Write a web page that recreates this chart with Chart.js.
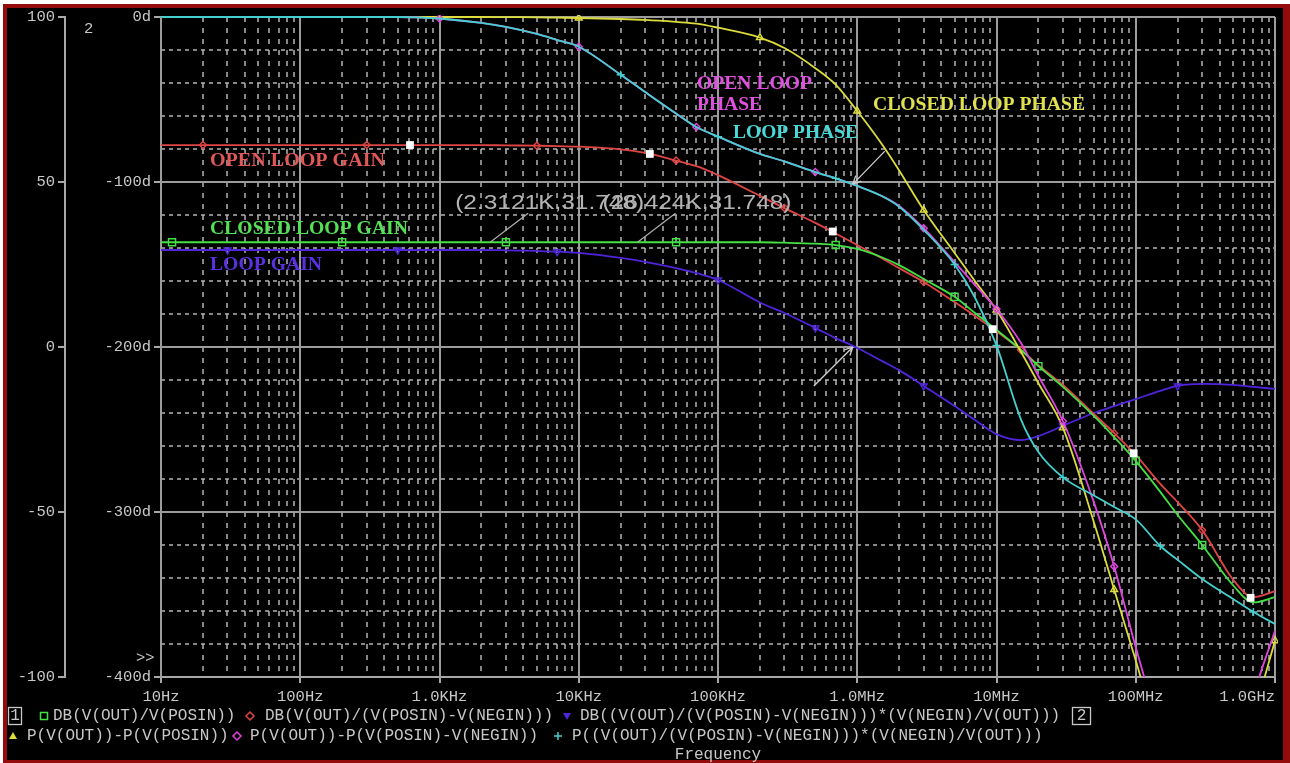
<!DOCTYPE html>
<html>
<head>
<meta charset="utf-8">
<title>Loop gain and phase</title>
<script src="https://cdn.jsdelivr.net/npm/chart.js@4/dist/chart.umd.min.js"></script>
<style>
  html, body { margin: 0; padding: 0; background: #ffffff; }
  canvas { display: block; }
</style>
</head>
<body>
<canvas id="plot" width="1290" height="763"></canvas>
<script>
// Sweep frequencies (Hz)
const freqHz = [10, 12, 20, 30, 50, 70,
  100, 200, 300, 500, 700,
  1e3, 2e3, 3e3, 5e3, 7e3,
  1e4, 2e4, 3e4, 5e4, 7e4,
  1e5, 2e5, 3e5, 5e5, 7e5,
  1e6, 1.5e6, 2e6, 3e6, 5e6, 7e6,
  1e7, 1.5e7, 2e7, 3e7, 5e7, 7e7,
  1e8, 1.5e8, 2e8, 3e8, 5e8, 7e8,
  1e9];

// DB(V(OUT)/V(POSIN))  -- closed loop gain, dB
const closedLoopGainDb = [31.748, 31.748, 31.748, 31.748, 31.748, 31.748,
  31.748, 31.748, 31.748, 31.748, 31.748,
  31.748, 31.748, 31.748, 31.748, 31.748,
  31.748, 31.748, 31.748, 31.748, 31.748,
  31.748, 31.748, 31.6, 31.3, 30.9,
  29.7, 27.2, 24.8, 20.6, 15.2, 10.3,
  5.2, -0.9, -5.8, -12.1, -20.9, -27.3,
  -34.5, -43.9, -50.9, -60.0, -72.2, -77.4,
  -75.8];

// DB(V(OUT)/(V(POSIN)-V(NEGIN)))  -- open loop gain, dB
const openLoopGainDb = [61.2, 61.2, 61.2, 61.2, 61.2, 61.2,
  61.2, 61.2, 61.2, 61.2, 61.2,
  61.2, 61.2, 61.1, 61.0, 60.9,
  60.7, 59.9, 58.8, 56.5, 54.8,
  52.1, 45.8, 42.1, 37.6, 34.4,
  30.9, 26.9, 23.9, 19.7, 13.6, 9.4,
  4.8, -0.9, -5.5, -11.5, -20.3, -26.1,
  -32.7, -41.5, -47.0, -55.5, -70.5, -75.8,
  -74.0];

// DB((V(OUT)/(V(POSIN)-V(NEGIN)))*(V(NEGIN)/V(OUT)))  -- loop gain, dB
const loopGainDb = [29.4, 29.4, 29.4, 29.4, 29.4, 29.4,
  29.4, 29.4, 29.4, 29.4, 29.4,
  29.4, 29.4, 29.3, 29.1, 28.9,
  28.5, 27.0, 25.8, 23.9, 22.4,
  20.3, 13.5, 10.3, 5.8, 2.7,
  -0.3, -4.2, -7.0, -11.8, -17.9, -22.1,
  -26.4, -28.2, -27.0, -23.9, -20.0, -17.9,
  -15.8, -13.3, -11.8, -11.2, -11.5, -12.1,
  -12.7];

// P(V(OUT))-P(V(POSIN))  -- closed loop phase, degrees
const closedLoopPhaseDeg = [0, 0, 0, 0, 0, 0,
  0, 0, 0, 0, 0,
  0, 0, -0.1, -0.2, -0.4,
  -0.6, -1.2, -1.8, -3.0, -4.0,
  -6.5, -12.5, -18.8, -31, -41,
  -57, -77, -93, -117, -143, -160,
  -177.6, -203, -222, -249, -306, -347,
  -390, -440, -468, -488, -478, -425,
  -378];

// P(V(OUT))-P(V(POSIN)-V(NEGIN))  -- open loop phase, degrees
const openLoopPhaseDeg = [0, 0, 0, 0, 0, 0,
  0, 0, 0, 0, -0.3,
  -0.9, -3.6, -6, -10.3, -14,
  -18, -35, -45.5, -58.5, -66.7,
  -72.5, -83, -87.5, -94, -97.8,
  -102.4, -108.5, -114.5, -128, -148.5, -162.4,
  -177, -197.6, -217.6, -245, -294, -333,
  -382, -432, -460, -482, -468, -412,
  -372];

// P((V(OUT)/(V(POSIN)-V(NEGIN)))*(V(NEGIN)/V(OUT)))  -- loop phase, degrees
const loopPhaseDeg = [0, 0, 0, 0, 0, 0,
  0, 0, 0, 0, -0.3,
  -0.9, -3.6, -6, -10.3, -14,
  -18, -35, -45.5, -58.5, -66.7,
  -72.5, -83, -87.5, -94, -97.8,
  -102.4, -108.5, -115, -129, -150, -170,
  -199, -244, -263.6, -279, -290, -297,
  -304.5, -320.6, -329, -340.6, -352.7, -360.6,
  -367.9];

// Sample indices that carry a trace symbol
const closedGainMarks = [1, 7, 13, 19, 25, 30, 34, 38, 41];
const openGainMarks = [2, 8, 14, 19, 23, 29, 33, 37, 41];
const loopGainMarks = [3, 9, 15, 21, 24, 29, 35, 40];
const closedPhaseMarks = [16, 22, 26, 29, 32, 35, 37, 44];
const openPhaseMarks = [11, 16, 20, 24, 29, 32, 35, 37];
const loopPhaseMarks = [17, 21, 25, 30, 32, 35, 39, 43];

// Data-point marks placed on the open loop gain trace
const markHz = [614, 32400, 667000, 9.4e6, 9.66e7, 6.68e8];
const markDb = [61.2, 58.5, 35.0, 5.4, -32.2, -76.0];

// Cursor readouts on the closed loop gain trace
const cursorHz = [2312.1, 26424];
const cursorDb = [31.748, 31.748];

// Unity loop gain crossover and the loop phase there
const crossoverHz = 0.93e6;
const crossoverGainDb = 0;
const crossoverPhaseDeg = -101.3;

// Axis ticks
const decadeHz = [10, 100, 1e3, 1e4, 1e5, 1e6, 1e7, 1e8, 1e9];
const freqTickLabels = ['10Hz', '100Hz', '1.0KHz', '10KHz', '100KHz', '1.0MHz', '10MHz', '100MHz', '1.0GHz'];

// Trace legend rows
const legendRow1 = ['DB(V(OUT)/V(POSIN))', 'DB(V(OUT)/(V(POSIN)-V(NEGIN)))', 'DB((V(OUT)/(V(POSIN)-V(NEGIN)))*(V(NEGIN)/V(OUT)))'];
const legendRow2 = ['P(V(OUT))-P(V(POSIN))', 'P(V(OUT))-P(V(POSIN)-V(NEGIN))', 'P((V(OUT)/(V(POSIN)-V(NEGIN)))*(V(NEGIN)/V(OUT)))'];

const RED = '#e04444', GREEN = '#44e044', BLUE = '#5024dc';
const YELLOW = '#dcdc3c', MAGENTA = '#e044e0', CYAN = '#44d0d0';
const TEXT = '#c8c8c8';
const AXIS = '#a8a8a8';
const GRID_MAJOR = '#9c9c9c';
const GRID_MINOR = '#b4b4b4';
const MONO = '"Liberation Mono", "DejaVu Sans Mono", monospace';
const SERIF = '"Liberation Serif", "DejaVu Serif", serif';
const SANS = '"Liberation Sans", Arial, sans-serif';

function series(vals) {
  return freqHz.map((f, i) => ({ x: f, y: vals[i] }));
}
function markRadius(idx, r) {
  return ctx => (idx.includes(ctx.dataIndex) ? r : 0);
}
function trace(label, vals, axis, color, style, idx, r, extra) {
  return Object.assign({
    label: label,
    data: series(vals),
    yAxisID: axis,
    borderColor: color,
    borderWidth: 1.8,
    backgroundColor: 'transparent',
    pointStyle: style,
    pointRadius: markRadius(idx, r),
    pointHoverRadius: 0,
    pointBorderColor: color,
    pointBackgroundColor: 'transparent',
    pointBorderWidth: 1.4,
    cubicInterpolationMode: 'monotone',
    fill: false,
    clip: { left: 0, top: 2, right: 3, bottom: 0 }
  }, extra || {});
}

function fitText(ctx, text, x, y, w, font, color) {
  ctx.font = font;
  const m = ctx.measureText(text).width;
  ctx.save();
  ctx.translate(x, y);
  ctx.scale(w / m, 1);
  ctx.fillStyle = color;
  ctx.textAlign = 'left';
  ctx.textBaseline = 'middle';
  ctx.fillText(text, 0, 0);
  ctx.restore();
}

function seg(ctx, x0, y0, x1, y1) {
  ctx.beginPath();
  ctx.moveTo(x0, y0);
  ctx.lineTo(x1, y1);
  ctx.stroke();
}

function arrow(ctx, x0, y0, x1, y1) {
  seg(ctx, x0, y0, x1, y1);
  const a = Math.atan2(y1 - y0, x1 - x0);
  const L = 9, s = 0.45;
  seg(ctx, x1, y1, x1 - L * Math.cos(a - s), y1 - L * Math.sin(a - s));
  seg(ctx, x1, y1, x1 - L * Math.cos(a + s), y1 - L * Math.sin(a + s));
}

function legendSymbol(ctx, kind, x, y, color) {
  ctx.save();
  ctx.strokeStyle = color;
  ctx.fillStyle = color;
  ctx.lineWidth = 1.5;
  ctx.setLineDash([]);
  ctx.beginPath();
  if (kind === 'square') {
    ctx.rect(x - 3.5, y - 3.5, 7, 7);
    ctx.stroke();
  } else if (kind === 'diamond') {
    ctx.moveTo(x, y - 4); ctx.lineTo(x + 4, y); ctx.lineTo(x, y + 4); ctx.lineTo(x - 4, y); ctx.closePath();
    ctx.stroke();
  } else if (kind === 'triDown') {
    ctx.moveTo(x - 4, y - 3); ctx.lineTo(x + 4, y - 3); ctx.lineTo(x, y + 4); ctx.closePath();
    ctx.fill();
  } else if (kind === 'triUp') {
    ctx.moveTo(x - 4, y + 3); ctx.lineTo(x + 4, y + 3); ctx.lineTo(x, y - 4); ctx.closePath();
    ctx.fill();
  } else if (kind === 'plus') {
    ctx.moveTo(x - 4, y); ctx.lineTo(x + 4, y);
    ctx.moveTo(x, y - 4); ctx.lineTo(x, y + 4);
    ctx.stroke();
  }
  ctx.restore();
}

const pspiceFrame = {
  id: 'pspiceFrame',
  beforeDraw(chart) {
    const { ctx, width, height } = chart;
    ctx.save();
    ctx.fillStyle = '#ffffff';
    ctx.fillRect(0, 0, width, height);
    ctx.fillStyle = '#940c0c';
    ctx.fillRect(3, 4, width - 3, height - 4);
    ctx.fillStyle = '#000000';
    ctx.fillRect(7, 8, width - 14, height - 11);
    ctx.restore();
  },
  beforeDatasetsDraw(chart) {
    const { ctx, chartArea: a, scales } = chart;
    const xs = scales.x, yp = scales.yPh;
    ctx.save();
    // dotted minor grid
    ctx.strokeStyle = GRID_MINOR;
    ctx.lineWidth = 1.5;
    ctx.setLineDash([5, 6]);
    for (let d = 10; d < 1e9; d *= 10) {
      for (let m = 2; m <= 9; m++) {
        const px = Math.round(xs.getPixelForValue(m * d));
        seg(ctx, px, a.top, px, a.bottom);
      }
    }
    ctx.setLineDash([4, 4]);
    for (let v = -20; v > -400; v -= 20) {
      if (v % 100 === 0) continue;
      const py = Math.round(yp.getPixelForValue(v));
      seg(ctx, a.left, py, a.right, py);
    }
    // solid major grid
    ctx.setLineDash([]);
    ctx.strokeStyle = GRID_MAJOR;
    ctx.lineWidth = 2;
    decadeHz.forEach(f => {
      const px = Math.round(xs.getPixelForValue(f));
      seg(ctx, px, a.top, px, a.bottom);
    });
    for (let v = 0; v > -400; v -= 100) {
      const py = Math.round(yp.getPixelForValue(v));
      seg(ctx, a.left, py, a.right, py);
    }
    ctx.restore();
  },
  afterDraw(chart) {
    const { ctx, chartArea: a, scales } = chart;
    const xs = scales.x, yd = scales.yDb, yp = scales.yPh;
    ctx.save();

    // trace names
    const bold = 'bold 19px ' + SERIF;
    fitText(ctx, 'OPEN LOOP GAIN', 210, 161, 175, bold, '#e05858');
    fitText(ctx, 'CLOSED LOOP GAIN', 210, 229, 198, bold, '#54e054');
    fitText(ctx, 'LOOP GAIN', 210, 265, 112, bold, '#5a30e0');
    fitText(ctx, 'OPEN LOOP', 697, 84, 115, bold, '#e050e0');
    fitText(ctx, 'PHASE', 697, 105, 65, bold, '#e050e0');
    fitText(ctx, 'LOOP PHASE', 733, 133, 125, bold, '#48d8d8');
    fitText(ctx, 'CLOSED LOOP PHASE', 873, 105, 212, bold, '#e0e050');

    // cursor readouts
    ctx.strokeStyle = '#b0b0b0';
    ctx.lineWidth = 1.2;
    cursorHz.forEach((f, i) => {
      const px = xs.getPixelForValue(f);
      const py = yd.getPixelForValue(cursorDb[i]);
      seg(ctx, px, py, px + 38, py - 29);
      const txt = '(' + (f / 1000).toPrecision(5) + 'K,' + cursorDb[i].toFixed(3) + ')';
      fitText(ctx, txt, px - 35, py - 39, 189, '20px ' + SANS, '#b4b4b4');
    });

    // crossover arrows
    ctx.strokeStyle = '#d0d0d0';
    ctx.lineWidth = 1.3;
    const cx = xs.getPixelForValue(crossoverHz);
    const cp = yp.getPixelForValue(crossoverPhaseDeg);
    arrow(ctx, cx + 32, cp - 33, cx, cp);
    const cg = yd.getPixelForValue(crossoverGainDb);
    arrow(ctx, cx - 39, cg + 39, cx, cg);

    // frequency tick labels
    ctx.font = '15.5px ' + MONO;
    ctx.fillStyle = TEXT;
    ctx.textBaseline = 'middle';
    decadeHz.forEach((f, i) => {
      const px = xs.getPixelForValue(f);
      ctx.textAlign = i === decadeHz.length - 1 ? 'right' : 'center';
      ctx.fillText(freqTickLabels[i], px, 697);
    });

    // axis identifiers
    ctx.textAlign = 'left';
    ctx.fillText('2', 84, 29);
    ctx.fillText('>>', 136, 658);

    // legend
    ctx.font = '16px ' + MONO;
    ctx.strokeStyle = TEXT;
    ctx.lineWidth = 1.3;
    ctx.strokeRect(8.5, 707.5, 13, 17);
    ctx.strokeRect(1072.5, 707.5, 18, 17);
    ctx.textAlign = 'center';
    ctx.fillText('1', 15, 716);
    ctx.fillText('2', 1081.5, 716);
    ctx.textAlign = 'left';
    legendSymbol(ctx, 'square', 44, 716, GREEN);
    ctx.fillText(legendRow1[0], 53, 716);
    legendSymbol(ctx, 'diamond', 250, 716, RED);
    ctx.fillText(legendRow1[1], 265, 716);
    legendSymbol(ctx, 'triDown', 567, 716, BLUE);
    ctx.fillText(legendRow1[2], 580, 716);
    legendSymbol(ctx, 'triUp', 13, 736, YELLOW);
    ctx.fillText(legendRow2[0], 27, 736);
    legendSymbol(ctx, 'diamond', 237, 736, MAGENTA);
    ctx.fillText(legendRow2[1], 250, 736);
    legendSymbol(ctx, 'plus', 558, 736, CYAN);
    ctx.fillText(legendRow2[2], 572, 736);
    ctx.textAlign = 'center';
    ctx.fillText('Frequency', (a.left + a.right) / 2, 755);

    ctx.restore();
  }
};

const tickFont = { family: MONO, size: 15.5 };

new Chart(document.getElementById('plot'), {
  type: 'line',
  data: {
    datasets: [
      {
        label: 'marks',
        data: markHz.map((f, i) => ({ x: f, y: markDb[i] })),
        yAxisID: 'yDb',
        showLine: false,
        pointStyle: 'rect',
        pointRadius: 5.5,
        pointHoverRadius: 0,
        pointBackgroundColor: '#ffffff',
        pointBorderColor: '#ffffff',
        pointBorderWidth: 0
      },
      trace(legendRow2[2], loopPhaseDeg, 'yPh', CYAN, 'cross', loopPhaseMarks, 4),
      trace(legendRow2[1], openLoopPhaseDeg, 'yPh', MAGENTA, 'rectRot', openPhaseMarks, 3.5),
      trace(legendRow2[0], closedLoopPhaseDeg, 'yPh', YELLOW, 'triangle', closedPhaseMarks, 4),
      trace(legendRow1[0], closedLoopGainDb, 'yDb', GREEN, 'rect', closedGainMarks, 5),
      trace(legendRow1[1], openLoopGainDb, 'yDb', RED, 'rectRot', openGainMarks, 3.5),
      trace(legendRow1[2], loopGainDb, 'yDb', BLUE, 'triangle', loopGainMarks, 4,
        { pointRotation: 180 })
    ]
  },
  options: {
    responsive: false,
    animation: false,
    devicePixelRatio: 1,
    events: [],
    layout: { padding: { left: 7, right: 15, top: 17, bottom: 0 } },
    plugins: { legend: { display: false }, tooltip: { enabled: false } },
    scales: {
      x: {
        type: 'logarithmic',
        position: 'bottom',
        min: 10,
        max: 1e9,
        afterBuildTicks: s => { s.ticks = decadeHz.map(v => ({ value: v })); },
        ticks: { display: false },
        grid: { display: true, drawOnChartArea: false, drawTicks: true, tickLength: 6, color: AXIS, lineWidth: 2 },
        border: { display: true, color: AXIS, width: 2 },
        afterFit: s => { s.height = 86; s.paddingLeft = 0; s.paddingRight = 0; }
      },
      yPh: {
        type: 'linear',
        position: 'left',
        weight: 0,
        min: -400,
        max: 0,
        ticks: { stepSize: 100, callback: v => v + 'd', font: tickFont, color: TEXT, padding: 3 },
        grid: { display: true, drawOnChartArea: false, drawTicks: true, tickLength: 7, color: AXIS, lineWidth: 2 },
        border: { display: true, color: AXIS, width: 2 },
        afterFit: s => { s.width = 96; }
      },
      yDb: {
        type: 'linear',
        position: 'left',
        weight: 1,
        min: -100,
        max: 100,
        ticks: { stepSize: 50, callback: v => String(v), font: tickFont, color: TEXT, padding: 3 },
        grid: { display: true, drawOnChartArea: false, drawTicks: true, tickLength: 7, color: AXIS, lineWidth: 2 },
        border: { display: true, color: AXIS, width: 2 },
        afterFit: s => { s.width = 58; }
      }
    }
  },
  plugins: [pspiceFrame]
});
</script>
</body>
</html>
